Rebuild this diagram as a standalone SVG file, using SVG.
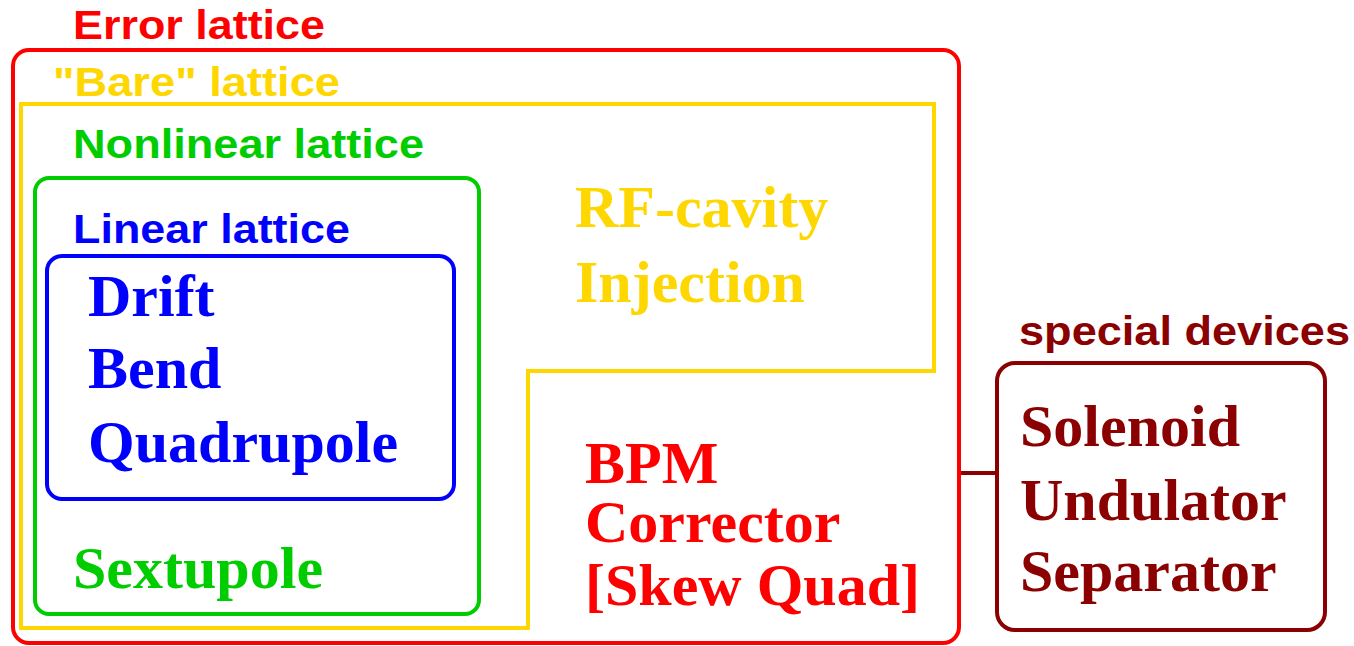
<svg xmlns="http://www.w3.org/2000/svg" width="1354" height="646" viewBox="0 0 1354 646">
<style>
.box{fill:none;stroke-width:4;stroke-linejoin:miter}
.sans{font-family:"Liberation Sans",Arial,sans-serif;font-weight:bold;font-size:40px}
.serif{font-family:"Liberation Serif","Times New Roman",serif;font-weight:bold;font-size:60px}
.red{fill:#ff0000}.yel{fill:#ffd700}.grn{fill:#00cd00}.blu{fill:#0000ff}.drk{fill:#8b0000}
</style>
<rect width="1354" height="646" fill="#ffffff"/>
<g id="connectors">
<line x1="959" y1="473" x2="997" y2="473" stroke="#8b0000" stroke-width="4"/>
</g>
<g id="error-lattice">
<rect class="box" x="13" y="50" width="946" height="593" rx="16" stroke="#ff0000"/>
<text class="sans red" x="73" y="39" textLength="252" lengthAdjust="spacingAndGlyphs">Error lattice</text>
<text class="serif red" x="585" y="483">BPM</text>
<text class="serif red" x="585" y="542">Corrector</text>
<text class="serif red" x="585" y="605">[Skew Quad]</text>
</g>
<g id="bare-lattice">
<path class="box" d="M21,104 H934 V371 H528 V628 H21 Z" stroke="#ffd700"/>
<text class="sans yel" x="53" y="96" textLength="287" lengthAdjust="spacingAndGlyphs">"Bare" lattice</text>
<text class="serif yel" x="575" y="227">RF-cavity</text>
<text class="serif yel" x="575" y="302">Injection</text>
</g>
<g id="nonlinear-lattice">
<rect class="box" x="35" y="178" width="444" height="436" rx="14" stroke="#00cd00"/>
<text class="sans grn" x="73" y="158" textLength="351" lengthAdjust="spacingAndGlyphs">Nonlinear lattice</text>
<text class="serif grn" x="73" y="588">Sextupole</text>
</g>
<g id="linear-lattice">
<rect class="box" x="47" y="256" width="407" height="243" rx="15" stroke="#0000ff"/>
<text class="sans blu" x="73" y="243" textLength="277" lengthAdjust="spacingAndGlyphs">Linear lattice</text>
<text class="serif blu" x="88" y="316">Drift</text>
<text class="serif blu" x="88" y="388">Bend</text>
<text class="serif blu" x="88" y="462">Quadrupole</text>
</g>
<g id="special-devices">
<rect class="box" x="997" y="363" width="328" height="267" rx="18" stroke="#8b0000"/>
<text class="sans drk" x="1019" y="345" textLength="331" lengthAdjust="spacingAndGlyphs">special devices</text>
<text class="serif drk" x="1020" y="446">Solenoid</text>
<text class="serif drk" x="1020" y="520">Undulator</text>
<text class="serif drk" x="1020" y="591">Separator</text>
</g>
</svg>
